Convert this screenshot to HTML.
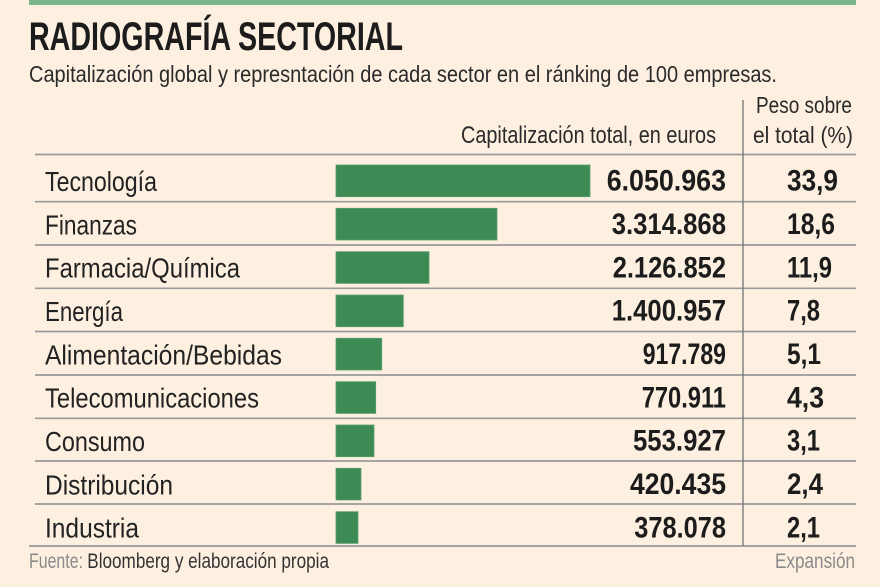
<!DOCTYPE html>
<html>
<head>
<meta charset="utf-8">
<style>
  html, body { margin: 0; padding: 0; background: #fdf0e1; }
  body { width: 880px; height: 587px; overflow: hidden; }
  svg { display: block; }
  text { font-family: "Liberation Sans", "DejaVu Sans", sans-serif; }
</style>
</head>
<body>
<svg width="880" height="587" viewBox="0 0 880 587" xmlns="http://www.w3.org/2000/svg">
  <rect x="0" y="0" width="880" height="587" fill="#fdf0e1"/>
  <!-- top band -->
  <rect x="29" y="0" width="827" height="5" fill="#7ab68a"/>

  <!-- title -->
  <text x="29" y="50" font-size="40" font-weight="bold" fill="#1c1c1c" textLength="374" lengthAdjust="spacingAndGlyphs">RADIOGRAFÍA SECTORIAL</text>
  <text x="29" y="82" font-size="23" fill="#2a2a2a" textLength="748" lengthAdjust="spacingAndGlyphs">Capitalización global y represntación de cada sector en el ránking de 100 empresas.</text>

  <!-- headers -->
  <text x="461" y="143" font-size="24" fill="#2a2a2a" textLength="255" lengthAdjust="spacingAndGlyphs">Capitalización total, en euros</text>
  <text x="756" y="113" font-size="23" fill="#2a2a2a" textLength="96" lengthAdjust="spacingAndGlyphs">Peso sobre</text>
  <text x="753" y="143" font-size="23" fill="#2a2a2a" textLength="100" lengthAdjust="spacingAndGlyphs">el total (%)</text>

  <!-- grid lines -->
  <g stroke="#9a9a9a" stroke-width="1.7">
    <line x1="35" y1="154.5" x2="856" y2="154.5"/>
    <line x1="35" y1="201.7" x2="856" y2="201.7"/>
    <line x1="35" y1="245" x2="856" y2="245"/>
    <line x1="35" y1="288.3" x2="856" y2="288.3"/>
    <line x1="35" y1="331.5" x2="856" y2="331.5"/>
    <line x1="35" y1="375" x2="856" y2="375"/>
    <line x1="35" y1="418.3" x2="856" y2="418.3"/>
    <line x1="35" y1="461" x2="856" y2="461"/>
    <line x1="35" y1="504" x2="856" y2="504"/>
    <line x1="29" y1="546" x2="856" y2="546"/>
  </g>
  <line x1="743" y1="100" x2="743" y2="546" stroke="#7a7a7a" stroke-width="1.4"/>

  <!-- bars -->
  <g fill="#3e8a55" stroke="#5a9e6e" stroke-width="0.8">
    <rect x="336" y="165" width="254" height="31.7"/>
    <rect x="336" y="208.3" width="161" height="31.7"/>
    <rect x="336" y="251.7" width="93" height="31.7"/>
    <rect x="336" y="295" width="67.3" height="31.7"/>
    <rect x="336" y="338.3" width="45.7" height="31.7"/>
    <rect x="336" y="381.7" width="39.7" height="31.7"/>
    <rect x="336" y="425" width="38" height="31.7"/>
    <rect x="336" y="468.3" width="25" height="31.7"/>
    <rect x="336" y="511.7" width="22" height="31.7"/>
  </g>

  <!-- labels -->
  <g font-size="28" fill="#222">
    <text x="45" y="191" textLength="112" lengthAdjust="spacingAndGlyphs">Tecnología</text>
    <text x="45" y="234.3" textLength="92" lengthAdjust="spacingAndGlyphs">Finanzas</text>
    <text x="45" y="277.7" textLength="195" lengthAdjust="spacingAndGlyphs">Farmacia/Química</text>
    <text x="45" y="321" textLength="78" lengthAdjust="spacingAndGlyphs">Energía</text>
    <text x="45" y="364.3" textLength="237" lengthAdjust="spacingAndGlyphs">Alimentación/Bebidas</text>
    <text x="45" y="407.7" textLength="214" lengthAdjust="spacingAndGlyphs">Telecomunicaciones</text>
    <text x="45" y="451" textLength="100" lengthAdjust="spacingAndGlyphs">Consumo</text>
    <text x="45" y="494.3" textLength="128" lengthAdjust="spacingAndGlyphs">Distribución</text>
    <text x="45" y="537.7" textLength="94" lengthAdjust="spacingAndGlyphs">Industria</text>
  </g>

  <!-- values -->
  <g font-size="30" font-weight="bold" fill="#1c1c1c">
    <text x="606.7" y="190.7" textLength="119.3" lengthAdjust="spacingAndGlyphs">6.050.963</text>
    <text x="611.7" y="234" textLength="114.3" lengthAdjust="spacingAndGlyphs">3.314.868</text>
    <text x="612.7" y="277.3" textLength="113.3" lengthAdjust="spacingAndGlyphs">2.126.852</text>
    <text x="611.7" y="320.7" textLength="114.3" lengthAdjust="spacingAndGlyphs">1.400.957</text>
    <text x="642.7" y="364" textLength="83.3" lengthAdjust="spacingAndGlyphs">917.789</text>
    <text x="641.7" y="407.3" textLength="84.3" lengthAdjust="spacingAndGlyphs">770.911</text>
    <text x="633" y="450.7" textLength="93" lengthAdjust="spacingAndGlyphs">553.927</text>
    <text x="630" y="494" textLength="96" lengthAdjust="spacingAndGlyphs">420.435</text>
    <text x="634.3" y="537.3" textLength="91.7" lengthAdjust="spacingAndGlyphs">378.078</text>
  </g>

  <!-- percentages -->
  <g font-size="30" font-weight="bold" fill="#1c1c1c">
    <text x="787" y="190.7" textLength="51" lengthAdjust="spacingAndGlyphs">33,9</text>
    <text x="787" y="234" textLength="48" lengthAdjust="spacingAndGlyphs">18,6</text>
    <text x="787" y="277.3" textLength="45" lengthAdjust="spacingAndGlyphs">11,9</text>
    <text x="787" y="320.7" textLength="33" lengthAdjust="spacingAndGlyphs">7,8</text>
    <text x="787" y="364" textLength="34" lengthAdjust="spacingAndGlyphs">5,1</text>
    <text x="787" y="407.3" textLength="37" lengthAdjust="spacingAndGlyphs">4,3</text>
    <text x="787" y="450.7" textLength="33" lengthAdjust="spacingAndGlyphs">3,1</text>
    <text x="787" y="494" textLength="36" lengthAdjust="spacingAndGlyphs">2,4</text>
    <text x="787" y="537.3" textLength="33" lengthAdjust="spacingAndGlyphs">2,1</text>
  </g>

  <!-- footer -->
  <text x="29" y="568" font-size="21" fill="#8a8a8a" textLength="54" lengthAdjust="spacingAndGlyphs">Fuente:</text>
  <text x="87.3" y="568" font-size="21" fill="#333" textLength="241.7" lengthAdjust="spacingAndGlyphs">Bloomberg y elaboración propia</text>
  <text x="775" y="568" font-size="21" fill="#8a8a8a" textLength="80" lengthAdjust="spacingAndGlyphs">Expansión</text>
</svg>
</body>
</html>
